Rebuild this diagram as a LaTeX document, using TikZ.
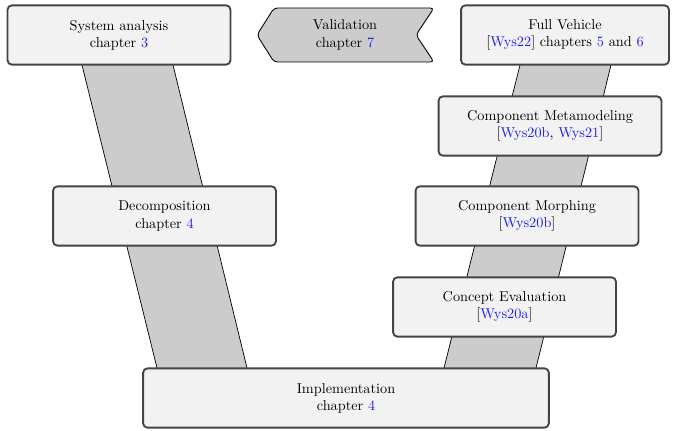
\documentclass[tikz,border=0pt]{standalone}
\usepackage{tikz}
\definecolor{linkblue}{rgb}{0.12,0.12,0.92}
\definecolor{boxfill}{HTML}{F2F2F2}
\definecolor{boxdraw}{HTML}{444444}
\definecolor{bandfill}{HTML}{CCCCCC}
\newcommand{\lk}[1]{\textcolor{linkblue}{#1}}
\begin{document}
\begin{tikzpicture}[x=0.7pt,y=-0.7pt,
  stagebox/.style={draw=boxdraw,line width=1.3pt,fill=boxfill,rounded corners=3pt,
    minimum width=156pt,minimum height=41.5pt,align=center,inner sep=0pt,font=\normalsize},
  band/.style={fill=bandfill,draw=none},
  bandedge/.style={draw=black,line width=0.5pt}]
\useasboundingbox (0,0) rectangle (679,431);
% bands
\fill[bandfill] (82,65) -- (173,65) -- (247,368) -- (157,368) -- cycle;
\draw[bandedge] (82,65) -- (157,368);
\draw[bandedge] (173,65) -- (247,368);
\fill[bandfill] (520,65) -- (611,65) -- (536,368) -- (444,368) -- cycle;
\draw[bandedge] (520,65) -- (444,368);
\draw[bandedge] (611,65) -- (536,368);
% boxes
\node[stagebox] (sys) at (119,35) {System analysis\\chapter \lk{3}};
\node[stagebox] (dec) at (164.5,216) {Decomposition\\chapter \lk{4}};
\node[stagebox,minimum width=284pt] (imp) at (346,398) {Implementation\\chapter \lk{4}};
\node[stagebox,minimum width=145.5pt] (full) at (565,35) {Full Vehicle\\{}[\lk{Wys22}] chapters \lk{5} and \lk{6}};
\node[stagebox] (meta) at (550,126) {Component Metamodeling\\{}[\lk{Wys20b}, \lk{Wys21}]};
\node[stagebox] (morph) at (527,216) {Component Morphing\\{}[\lk{Wys20b}]};
\node[stagebox] (conc) at (504.5,307) {Concept Evaluation\\{}[\lk{Wys20a}]};
% validation arrow
\draw[fill=bandfill,draw=black,line width=0.6pt,rounded corners=2.5pt]
  (257,35) -- (274,8) -- (434,8) -- (416,35) -- (434,62) -- (274,62) -- cycle;
\node[align=center,inner sep=0pt] (val) at (345,35) {Validation\\chapter \lk{7}};
\end{tikzpicture}
\end{document}
